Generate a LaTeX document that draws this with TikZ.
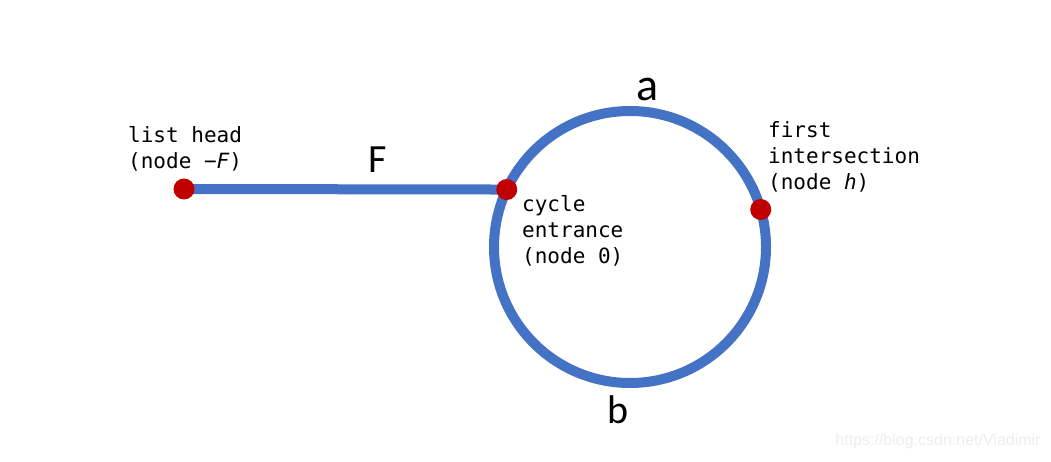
\documentclass[tikz,border=0pt]{standalone}
\usepackage{fontspec}
\setmonofont{DejaVu Sans Mono}
\newfontfamily\letterfont{Carlito}
\newfontfamily\markfont{Liberation Sans}
\usetikzlibrary{backgrounds}
\definecolor{loopblue}{HTML}{4472C4}
\definecolor{dotred}{HTML}{C00000}
\begin{document}
\begin{tikzpicture}[x=1pt,y=-1pt,
		dot/.style={circle,fill=dotred,inner sep=0pt,minimum size=21pt},
		note/.style={align=left,anchor=north west,inner sep=0pt,font=\ttfamily\fontsize{21}{26}\selectfont},
		letter/.style={inner sep=0pt,font=\letterfont\fontsize{40}{40}\selectfont},]

\useasboundingbox (0,0) rectangle (1051,462);
\node[circle,draw=loopblue,line width=10pt,inner sep=0pt,outer sep=0pt,minimum size=272pt] (loop) at (630,247) {};
\node[dot] (head) at (184,189) {};
\node[dot] (entrance) at (loop.155) {};
\node[dot] (meet) at (loop.16) {};
\begin{scope}[on background layer]
	\draw[loopblue,line width=10pt] (head.center) -- (entrance.center);
\end{scope}

\node[note] (headtext) at (128,126) {list head\\(node −{\itshape F})};
\node[note] (entrancetext) at (522,195) {cycle\\entrance\\(node 0)};
\node[note] (meettext) at (768,121) {first\\intersection\\(node {\itshape h})};

\node[letter] (F) at (378,160) {F};
\node[letter,font=\letterfont\fontsize{46}{46}\selectfont] (a) at (648,89) {a};
\node[letter] (b) at (618,410) {b};

\node[text=black!7,font=\markfont\fontsize{16}{16}\selectfont] (mark) at (938,441) {https://blog.csdn.net/Viadimir};
\end{tikzpicture}
\end{document}
